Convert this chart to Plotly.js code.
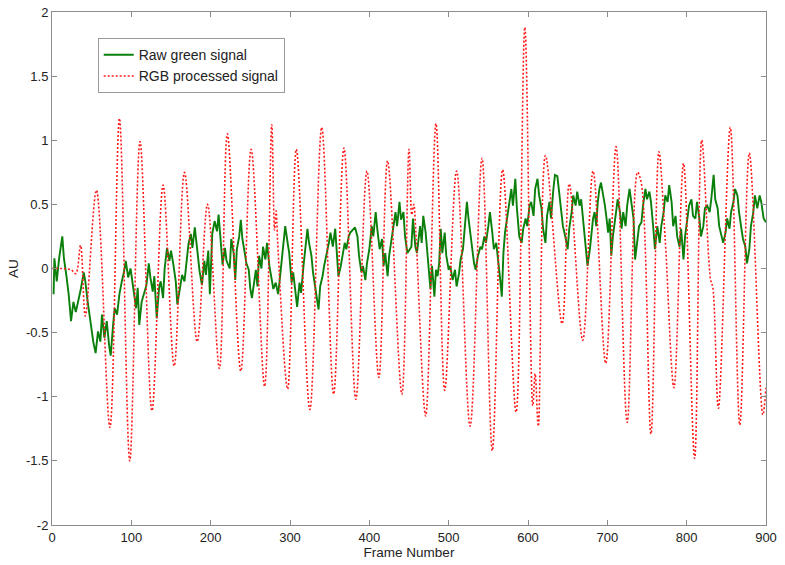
<!DOCTYPE html>
<html>
<head>
<meta charset="utf-8">
<script src="https://cdn.plot.ly/plotly-3.0.1.min.js"></script>
<style>html,body{margin:0;padding:0;background:#fff}#chart{width:785px;height:565px}</style>
</head>
<body>
<div id="chart"></div>
<script>
// Raw green signal (frame, value)
const greenFrames = [
 2,3,6,9,13,15,18,21,24,27,30,33,36,40,42,45,47,50,52,55,
 58,61,63,66,69,72,74,77,79,82,85,88,91,93,96,99,103,106,108,110,
 113,116,119,122,124,127,129,132,135,137,140,142,145,148,150,153,156,158,161,164,
 167,170,172,175,177,180,183,186,189,192,194,197,199,202,205,208,210,213,215,218,
 220,224,
 226,229,231,233,236,238,240,243,245,248,250,252,254,257,259,261,264,266,269,271,
 274,277,279,282,285,287,290,292,294,297,299,302,304,307,309,312,314,317,319,322,
 324,327,329,332,334,336,338,341,343,346,349,351,354,357,359,361,364,366,369,371,
 374,376,380,382,385,387,390,392,395,397,400,403,405,408,410,413,416,418,420,423,
 425,428,430,433,435,438,440,443,445,448,451,
 453,455,458,460,462,464,466,468,471,473,475,477,479,482,484,486,488,490,492,495,
 497,500,502,505,508,510,513,515,518,520,523,525,527,529,532,534,537,540,542,545,
 547,550,552,555,557,560,562,565,567,569,571,574,576,579,581,584,586,589,592,594,
 597,599,602,604,607,609,612,614,617,619,622,624,627,629,632,634,637,639,642,644,
 647,650,652,655,657,660,662,665,667,670,672,675,678,
 680,682,684,686,688,690,692,695,697,699,701,703,705,707,709,711,713,716,718,720,
 723,725,728,730,733,735,738,740,743,745,748,750,753,755,758,760,763,766,768,771,
 773,776,778,781,783,786,788,791,793,796,798,801,803,806,808,811,813,816,818,821,
 823,826,829,831,834,836,839,841,844,846,849,851,854,856,859,861,864,866,869,871,
 874,876,879,881,884,886,889,892,894,897,900
];
const greenValues = [
 -0.20,0.08,-0.10,0.08,0.25,0.08,-0.05,-0.20,-0.41,-0.26,-0.34,-0.26,-0.17,-0.03,-0.10,-0.26,-0.36,-0.47,-0.57,-0.66,
 -0.49,-0.57,-0.36,-0.54,-0.41,-0.60,-0.68,-0.44,-0.31,-0.36,-0.20,-0.10,-0.02,0.06,-0.07,0.0,-0.18,-0.31,-0.15,-0.44,
 -0.26,-0.19,-0.13,0.04,-0.07,-0.18,-0.06,-0.39,-0.15,-0.10,-0.23,0.0,0.16,0.06,0.14,0.03,-0.10,-0.28,-0.15,-0.05,
 -0.10,0.06,0.19,0.27,0.16,0.32,0.14,-0.02,-0.13,0.06,-0.05,0.14,-0.20,0.27,0.37,0.29,0.42,0.19,0.03,0.16,
 0.06,0.0,
 0.23,0.12,-0.09,0.15,0.25,0.38,0.23,0.12,0.04,-0.01,-0.16,-0.23,-0.14,-0.01,-0.14,0.10,0.00,0.17,0.07,0.20,
 0.02,-0.09,-0.16,-0.11,-0.20,-0.09,0.10,0.23,0.33,0.20,0.12,-0.11,-0.03,-0.19,-0.30,-0.11,-0.19,0.02,0.15,0.31,
 0.20,0.10,-0.03,-0.16,-0.24,-0.32,-0.14,-0.06,0.02,0.10,0.20,0.28,0.17,0.31,0.12,-0.06,0.02,0.10,0.20,0.15,
 0.25,0.28,0.31,0.32,0.25,0.10,-0.03,0.02,-0.09,0.04,0.15,0.33,0.25,0.44,0.31,0.15,0.23,0.02,0.12,-0.06,
 0.10,0.23,0.33,0.44,0.33,0.52,0.38,0.44,0.25,0.12,0.15,
 0.17,0.39,0.17,0.12,0.25,0.33,0.20,0.41,0.28,0.15,0.02,-0.16,0.02,-0.22,-0.01,-0.06,0.04,0.31,0.12,0.28,
 0.10,-0.01,0.02,-0.09,-0.01,-0.14,-0.04,0.07,0.15,0.31,0.52,0.39,0.28,0.17,0.04,-0.01,0.10,0.17,0.15,0.25,
 0.20,0.33,0.44,0.28,0.15,0.20,0.10,-0.09,-0.22,0.12,0.28,0.41,0.52,0.62,0.49,0.70,0.47,0.25,0.20,0.31,
 0.39,0.33,0.49,0.52,0.41,0.62,0.70,0.57,0.47,0.31,0.20,0.41,0.52,0.39,0.62,0.73,0.72,0.62,0.44,0.33,
 0.25,0.15,0.31,0.44,0.57,0.49,0.60,0.49,0.54,0.36,0.20,0.02,0.15,
 0.25,0.39,0.44,0.33,0.52,0.62,0.67,0.57,0.49,0.39,0.28,0.39,0.10,0.25,0.33,0.44,0.54,0.44,0.31,0.44,
 0.33,0.49,0.62,0.52,0.39,0.07,0.23,0.33,0.36,0.49,0.62,0.54,0.60,0.52,0.31,0.15,0.33,0.20,0.33,0.44,
 0.57,0.52,0.65,0.52,0.33,0.41,0.25,0.17,0.31,0.07,0.25,0.41,0.49,0.54,0.41,0.39,0.52,0.39,0.25,0.33,
 0.47,0.49,0.44,0.54,0.73,0.54,0.47,0.33,0.25,0.20,0.28,0.39,0.31,0.44,0.52,0.62,0.57,0.44,0.31,0.23,
 0.17,0.04,0.15,0.33,0.44,0.57,0.47,0.57,0.52,0.39,0.36
];

// RGB processed signal: turning points
const redFrames = [
 0,12,24,30,36,42,56,73,85,98,111,126,140,154,167,183,196,211,221,238,
 251,268,277,280.5,282.5,284.5,297,308,325,340,355,368,383,397,412,423,441,450,453.5,456,
 458.5,471,484,495,510,527,542,555,568,585,596,606,609,613,622,643,652,669,682,698,
 711,725,738,743,755,765,773,784,796,810,819,830,833,840,855,867,879,896,900
];
const redValues = [
 0,0,-0.01,-0.04,0.18,-0.37,0.61,-1.24,1.17,-1.5,0.99,-1.11,0.65,-0.76,0.75,-0.57,0.5,-0.78,1.05,-0.8,
 0.93,-0.92,1.12,0.3,0.45,0.2,-0.94,0.93,-1.1,1.1,-0.98,0.94,-1.02,0.76,-0.85,0.84,-0.98,0.93,0.42,0.5,
 0.3,-1.15,1.13,-0.95,0.76,-1.23,0.86,-1.42,0.77,-1.12,1.88,-1.07,-0.82,-1.23,0.88,-0.43,0.66,-0.56,0.76,-0.74,
 0.95,-1.2,0.75,0.66,-1.29,0.91,0.22,-0.93,0.82,-1.48,1.0,-0.08,-0.15,-1.09,1.1,-1.22,0.9,-1.14,-0.93
];

const xTicks = [0,100,200,300,400,500,600,700,800,900];
const yTicks = [-2,-1.5,-1,-0.5,0,0.5,1,1.5,2];
const yTickText = ['-2','-1.5','-1','-0.5','0','0.5','1','1.5','2'];

const traces = [
  {x: greenFrames, y: greenValues, type: 'scatter', mode: 'lines', name: 'Raw green signal',
   line: {color: '#0a7f0a', width: 1.9}},
  {x: redFrames, y: redValues, type: 'scatter', mode: 'lines', name: 'RGB processed signal',
   line: {color: '#ff1a1a', width: 1.6, dash: '2px,2px', shape: 'spline', smoothing: 1}}
];

const fontFam = 'Liberation Sans, Arial, sans-serif';
const axisCommon = {
  showline: true, linecolor: '#8c8c8c', linewidth: 1, mirror: 'ticks',
  ticks: 'inside', ticklen: 5, tickcolor: '#8c8c8c', showgrid: false, zeroline: false,
  tickfont: {family: fontFam, size: 13, color: '#222'}
};

const layout = {
  width: 785, height: 565,
  margin: {l: 52, r: 19, t: 12, b: 40},
  paper_bgcolor: '#fff', plot_bgcolor: '#fff',
  font: {family: fontFam, size: 13, color: '#222'},
  showlegend: true,
  legend: {x: 0.064, y: 0.949, xanchor: 'left', yanchor: 'top', bgcolor: '#fff',
           bordercolor: '#9a9a9a', borderwidth: 1, font: {family: fontFam, size: 14, color: '#222'},
           tracegroupgap: 0},
  xaxis: Object.assign({}, axisCommon, {range: [0, 900], tickvals: xTicks, ticktext: xTicks.map(String),
           title: {text: 'Frame Number', standoff: 2, font: {family: fontFam, size: 13.5, color: '#222'}}, automargin: false}),
  yaxis: Object.assign({}, axisCommon, {range: [-2, 2], tickvals: yTicks, ticktext: yTickText,
           title: {text: 'AU', standoff: 4, font: {family: fontFam, size: 13.5, color: '#222'}}, automargin: false})
};

Plotly.newPlot('chart', traces, layout, {displayModeBar: false, staticPlot: true});
</script>
</body>
</html>
